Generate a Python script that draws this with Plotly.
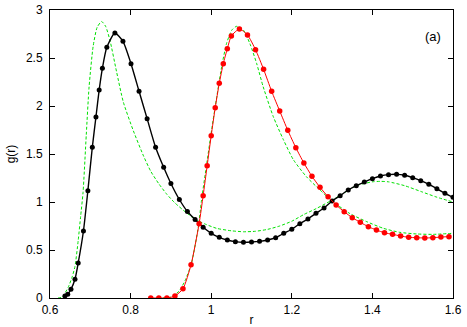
import plotly.graph_objects as go

# black curve with dots
black_r = [0.637, 0.644, 0.652, 0.662, 0.670, 0.683, 0.694, 0.705, 0.714, 0.722,
           0.730, 0.741, 0.761, 0.781, 0.801, 0.821, 0.841, 0.862, 0.882, 0.900,
           0.921, 0.941, 0.960, 0.980, 1.000, 1.020, 1.040, 1.060, 1.080, 1.100,
           1.120, 1.140, 1.160, 1.180, 1.200, 1.220, 1.240, 1.260, 1.280, 1.300,
           1.320, 1.340, 1.360, 1.380, 1.400, 1.420, 1.440, 1.460, 1.480, 1.500,
           1.520, 1.540, 1.560, 1.580, 1.600]
black_g = [0.021, 0.039, 0.091, 0.195, 0.365, 0.698, 1.118, 1.570, 1.885, 2.167,
           2.393, 2.611, 2.760, 2.674, 2.441, 2.153, 1.868, 1.570, 1.361, 1.193,
           1.026, 0.901, 0.818, 0.736, 0.674, 0.632, 0.604, 0.587, 0.580, 0.583,
           0.590, 0.604, 0.628, 0.674, 0.716, 0.774, 0.823, 0.882, 0.938, 1.010,
           1.066, 1.125, 1.170, 1.208, 1.243, 1.271, 1.285, 1.288, 1.278, 1.253,
           1.222, 1.184, 1.139, 1.090, 1.049]

# red curve with dots
red_r = [0.85, 0.87, 0.89, 0.91, 0.93, 0.95, 0.97, 0.98, 0.99, 1.00,
         1.01, 1.02, 1.03, 1.04, 1.05, 1.07, 1.09, 1.11, 1.13, 1.15,
         1.17, 1.19, 1.21, 1.23, 1.25, 1.27, 1.29, 1.31, 1.33, 1.35,
         1.37, 1.39, 1.41, 1.43, 1.45, 1.47, 1.49, 1.51, 1.53, 1.55,
         1.57, 1.59]
red_g = [0.0, 0.0, 0.0, 0.02, 0.097, 0.347, 0.774, 1.066, 1.378, 1.691,
         1.982, 2.236, 2.441, 2.597, 2.729, 2.802, 2.740, 2.587, 2.382, 2.153,
         1.948, 1.747, 1.566, 1.406, 1.268, 1.153, 1.055, 0.969, 0.899, 0.837,
         0.788, 0.743, 0.708, 0.680, 0.663, 0.646, 0.632, 0.628, 0.625, 0.628,
         0.635, 0.639]

# green dashed curves
green1_r = [0.620, 0.630, 0.645, 0.655, 0.662, 0.670, 0.676, 0.682, 0.690, 0.697,
            0.707, 0.717, 0.728, 0.738, 0.749, 0.765, 0.782, 0.807, 0.832, 0.850,
            0.870, 0.890, 0.910, 0.935, 0.960, 0.985, 1.014, 1.050, 1.080, 1.110,
            1.140, 1.170, 1.200, 1.230, 1.260, 1.300, 1.320, 1.360, 1.400, 1.420,
            1.440, 1.480, 1.520, 1.560, 1.600]
green1_g = [0.0, 0.01, 0.11, 0.22, 0.33, 0.60, 0.85, 1.10, 1.70, 2.20,
            2.62, 2.82, 2.88, 2.83, 2.68, 2.36, 2.04, 1.74, 1.48, 1.32,
            1.19, 1.08, 0.99, 0.90, 0.82, 0.77, 0.725, 0.70, 0.69, 0.695,
            0.715, 0.75, 0.80, 0.87, 0.93, 1.02, 1.07, 1.17, 1.21, 1.215,
            1.21, 1.17, 1.11, 1.05, 1.00]

green2_r = [0.880, 0.900, 0.920, 0.935, 0.951, 0.968, 0.976, 0.989, 1.001, 1.014,
            1.026, 1.038, 1.051, 1.063, 1.080, 1.096, 1.113, 1.129, 1.154, 1.179,
            1.204, 1.237, 1.270, 1.300, 1.344, 1.386, 1.427, 1.468, 1.510, 1.551,
            1.600]
green2_g = [0.0, 0.01, 0.07, 0.18, 0.36, 0.74, 1.02, 1.40, 1.75, 2.10,
            2.41, 2.65, 2.79, 2.83, 2.79, 2.65, 2.44, 2.20, 1.89, 1.65,
            1.44, 1.26, 1.125, 1.01, 0.88, 0.795, 0.726, 0.684, 0.667, 0.663,
            0.674]

x_ticks = [0.6, 0.8, 1.0, 1.2, 1.4, 1.6]
x_ticktext = ["0.6", "0.8", "1", "1.2", "1.4", "1.6"]
y_ticks = [0, 0.5, 1, 1.5, 2, 2.5, 3]
y_ticktext = ["0", "0.5", "1", "1.5", "2", "2.5", "3"]

GREEN = "#00e000"
FONT = "Liberation Sans, Arial, sans-serif"

fig = go.Figure()

for gr, gg in [(green1_r, green1_g), (green2_r, green2_g)]:
    fig.add_trace(go.Scatter(
        x=gr, y=gg, mode="lines",
        line=dict(color=GREEN, width=1, dash="3px,2px", shape="spline", smoothing=0.6),
        hoverinfo="skip",
    ))

fig.add_trace(go.Scatter(
    x=black_r, y=black_g, mode="lines+markers",
    line=dict(color="black", width=1.4, shape="spline", smoothing=0.6),
    marker=dict(color="black", size=5),
))
fig.add_trace(go.Scatter(
    x=red_r, y=red_g, mode="lines+markers",
    line=dict(color="#ff0000", width=1, shape="spline", smoothing=0.6),
    marker=dict(color="#ff0000", size=5.5),
))

fig.add_annotation(
    x=1.55, y=2.72, xref="x", yref="y", text="(a)", showarrow=False,
    font=dict(size=13, color="black", family=FONT),
)

axis_common = dict(
    showgrid=False, zeroline=False, showline=True, linecolor="black", linewidth=1,
    mirror="ticks", ticks="inside", ticklen=5, tickcolor="black", tickwidth=1,
    tickfont=dict(size=12, color="black", family=FONT), automargin=False,
)

fig.update_xaxes(
    range=[0.6, 1.6], tickvals=x_ticks, ticktext=x_ticktext, ticklabelstandoff=1,
    title=dict(text="r", font=dict(size=12, color="black", family=FONT), standoff=1),
    **axis_common,
)
fig.update_yaxes(
    range=[0, 3], tickvals=y_ticks, ticktext=y_ticktext, ticklabelstandoff=4,
    title=dict(text="g(r)", font=dict(size=12, color="black", family=FONT), standoff=7),
    **axis_common,
)

fig.update_layout(
    width=467, height=327,
    margin=dict(l=50, r=14, t=10, b=29),
    plot_bgcolor="white", paper_bgcolor="white",
    showlegend=False,
    font=dict(family=FONT, color="black"),
)

# drop the page's default body margin so the figure sits at the window's corner
fig.write_html("out.html", config={"displayModeBar": False},
               post_script="document.body.style.margin='0';")
